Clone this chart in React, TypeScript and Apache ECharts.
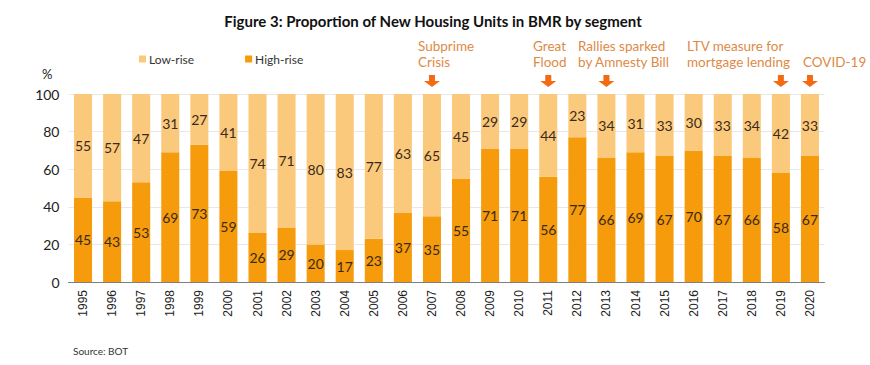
import React, { useEffect, useRef } from "react";
import * as echarts from "echarts";

const years = ["1995","1996","1997","1998","1999","2000","2001","2002","2003","2004","2005","2006","2007","2008","2009","2010","2011","2012","2013","2014","2015","2016","2017","2018","2019","2020"];
const highRise = [45,43,53,69,73,59,26,29,20,17,23,37,35,55,71,71,56,77,66,69,67,70,67,66,58,67];
const lowRise = [55,57,47,31,27,41,74,71,80,83,77,63,65,45,29,29,44,23,34,31,33,30,33,34,42,33];
const eventYears = ["2007","2011","2013","2019","2020"];
const yTicks = [0, 20, 40, 60, 80, 100];

const annoColor = "#DE8A46";
const arrowColor = "#F26B12";
const labelFont = "Lato, 'Open Sans', sans-serif";

export default function App() {
  const ref = useRef<HTMLDivElement>(null);
  useEffect(() => {
    if (!ref.current) return;
    const chart = echarts.init(ref.current, null, { renderer: "svg" });
    const annText = (x: number, y: number, t: string) => ({
      type: "text", left: x, top: y,
      style: { text: t, fill: annoColor, font: `13.5px ${labelFont}`, lineHeight: 16 },
    });
    chart.setOption({
      animation: false,
      backgroundColor: "#fff",
      title: {
        text: "Figure 3: Proportion of New Housing Units in BMR by segment",
        left: 428, top: 8, textAlign: "center",
        textStyle: { fontSize: 15, fontWeight: "bold", color: "#111", fontFamily: labelFont },
      },
      legend: {
        data: ["Low-rise", "High-rise"],
        left: 134, top: 48, icon: "rect", itemWidth: 7, itemHeight: 7, itemGap: 51,
        textStyle: { fontSize: 12, color: "#333", fontFamily: labelFont, padding: [0, 0, 0, -2] },
      },
      grid: { left: 68.5, right: 45.5, top: 94, bottom: 83, containLabel: false },
      xAxis: {
        type: "category", data: years,
        axisTick: { show: false },
        axisLine: { lineStyle: { color: "#7f7f7f", width: 1 } },
        axisLabel: { rotate: 90, fontSize: 12, color: "#222", fontFamily: "'Liberation Sans', Arial, sans-serif", margin: 8 },
      },
      yAxis: {
        type: "value", min: yTicks[0], max: yTicks[yTicks.length - 1], interval: 20,
        name: "%", nameLocation: "end", nameGap: 14,
        nameTextStyle: { fontSize: 13, color: "#222", fontFamily: labelFont, align: "right", padding: [0, 16, 0, 0] },
        axisLine: { show: false }, axisTick: { show: false },
        splitLine: { lineStyle: { color: "#e8e8e8" } },
        axisLabel: { fontSize: 14, color: "#222", fontFamily: labelFont, margin: 9 },
      },
      series: [
        {
          name: "High-rise", type: "bar", stack: "total", data: highRise, barWidth: "62%",
          itemStyle: { color: "#F59B0C" },
          label: { show: true, position: "inside", fontSize: 14, color: "#3a2a1a", fontFamily: labelFont },
        },
        {
          name: "Low-rise", type: "bar", stack: "total", data: lowRise, barWidth: "62%",
          itemStyle: { color: "#FBC97B" },
          label: { show: true, position: "inside", fontSize: 14, color: "#3a2a1a", fontFamily: labelFont },
          markPoint: {
            symbol: "path://M5,0 L11,0 L11,6 L16,6 L8,12 L0,6 L5,6 Z",
            symbolSize: [16, 12],
            symbolOffset: [0, -13],
            itemStyle: { color: arrowColor },
            label: { show: false },
            data: eventYears.map((y) => ({ coord: [y, 100] })),
          },
        },
      ],
      graphic: [
        annText(418, 38, "Subprime\nCrisis"),
        annText(533, 38, "Great\nFlood"),
        annText(578, 38, "Rallies sparked\nby Amnesty Bill"),
        annText(687, 38, "LTV measure for\nmortgage lending"),
        annText(803, 54, "COVID-19"),
        {
          type: "text", left: 73, top: 346,
          style: { text: "Source: BOT", fill: "#333", font: `10px ${labelFont}` },
        },
      ],
    });
    return () => chart.dispose();
  }, []);
  return <div ref={ref} style={{ width: 870, height: 365, position: "absolute", left: 0, top: 0 }} />;
}
